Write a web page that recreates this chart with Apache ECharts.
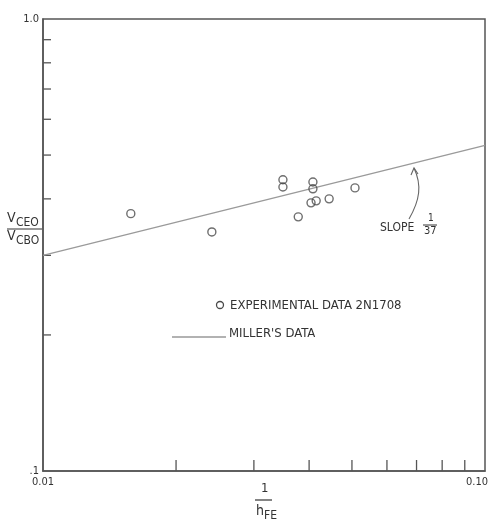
<!DOCTYPE html>
<html>
<head>
<meta charset="utf-8">
<script src="https://cdn.jsdelivr.net/npm/echarts@6/dist/echarts.min.js"></script>
<style>html,body{margin:0;padding:0;background:#fff}#c{width:489px;height:526px}</style>
</head>
<body>
<div id="c"></div>
<script>
// Experimental data 2N1708: 1/hFE vs VCEO/VCBO
const expX = [0.0158, 0.0241, 0.0349, 0.0349, 0.0378, 0.0408, 0.0408, 0.0404, 0.0415, 0.0444, 0.0508];
const expY = [0.371, 0.338, 0.441, 0.425, 0.365, 0.436, 0.421, 0.392, 0.396, 0.400, 0.423];
// Miller's data line
const millerX = [0.01, 0.1];
const millerY = [0.30, 0.525];
// Minor tick values
const xTickVals = [0.02, 0.03, 0.04, 0.05, 0.06, 0.07, 0.08, 0.09];
const yTickVals = [0.2, 0.3, 0.4, 0.5, 0.6, 0.7, 0.8, 0.9];
const xLabels = {min: '0.01', max: '0.10'};
const yLabels = {min: '.1', max: '1.0'};

const FONT = '"Liberation Sans Narrow", "DejaVu Sans Condensed", "Liberation Sans", sans-serif';
const INK = '#333';

const chart = echarts.init(document.getElementById('c'), null, {renderer: 'canvas'});

const txt = (x, y, text, size, extra) => Object.assign({
  type: 'text', x: x, y: y,
  style: Object.assign({text: text, fill: INK, font: size + 'px ' + FONT}, extra || {})
});
const ln = (x1, y1, x2, y2, color, w) => ({
  type: 'line', shape: {x1, y1, x2, y2}, style: {stroke: color || INK, lineWidth: w || 1.2}
});

chart.setOption({
  backgroundColor: '#fff',
  animation: false,
  grid: {left: 43, right: 4, top: 19, bottom: 55, show: true, borderColor: '#555', borderWidth: 1.5, backgroundColor: 'transparent', containLabel: false, outerBoundsMode: 'none'},
  xAxis: {
    type: 'log', logBase: 10, min: 0.01, max: 0.1,
    axisLine: {lineStyle: {color: '#555', width: 1.5}},
    axisTick: {show: false},
    splitLine: {show: false},
    axisLabel: {
      color: INK, fontSize: 11, fontFamily: FONT, margin: 6,
      formatter: v => (Math.abs(v - 0.01) < 1e-6 ? xLabels.min : '')
    }
  },
  yAxis: {
    type: 'log', logBase: 10, min: 0.1, max: 1,
    axisLine: {lineStyle: {color: '#555', width: 1.5}},
    axisTick: {show: false},
    splitLine: {show: false},
    axisLabel: {
      color: INK, fontSize: 11, fontFamily: FONT, margin: 4,
      verticalAlign: 'middle', padding: [0, 0, 4, 0],
      formatter: v => (Math.abs(v - 1) < 1e-6 ? yLabels.max : yLabels.min)
    }
  },
  series: [
    {
      type: 'line', name: "MILLER'S DATA",
      data: millerX.map((x, i) => [x, millerY[i]]),
      symbol: 'none', lineStyle: {color: '#9a9a9a', width: 1.3}, z: 2
    },
    {
      type: 'scatter', name: 'EXPERIMENTAL DATA 2N1708',
      data: expX.map((x, i) => [x, expY[i]]),
      symbol: 'circle', symbolSize: 8,
      itemStyle: {color: 'rgba(255,255,255,0)', borderColor: '#4a4a4a', borderWidth: 1.4}, z: 3
    },
    {
      type: 'custom', data: xTickVals.map(v => [v, 0.1]),
      renderItem: (params, api) => {
        const p = api.coord([api.value(0), 0.1]);
        return {type: 'line', shape: {x1: p[0], y1: p[1], x2: p[0], y2: p[1] - 11}, style: {stroke: '#555', lineWidth: 1.3}};
      }, silent: true
    },
    {
      type: 'custom', data: yTickVals.map(v => [0.01, v]),
      renderItem: (params, api) => {
        const p = api.coord([0.01, api.value(1)]);
        return {type: 'line', shape: {x1: p[0], y1: p[1], x2: p[0] + 8, y2: p[1]}, style: {stroke: '#555', lineWidth: 1.3}};
      }, silent: true
    },
    {
      // right-end x tick label, aligned to the axis end
      type: 'custom', data: [[0.1, 0.1]], clip: false,
      renderItem: (params, api) => {
        const p = api.coord([api.value(0), api.value(1)]);
        return {type: 'text', x: p[0] + 3, y: p[1] + 6,
          style: {text: xLabels.max, fill: INK, font: '11px ' + FONT, align: 'right', verticalAlign: 'top'}};
      }, silent: true
    }
  ],
  graphic: [
    // y-axis name: V_CEO / V_CBO
    txt(7, 211, 'V', 14),
    txt(16, 217, 'CEO', 12),
    ln(7, 229, 42, 229, INK, 1.2),
    txt(7, 229, 'V', 14),
    txt(16, 235, 'CBO', 12),
    // x-axis name: 1 / h_FE
    txt(261, 482, '1', 13),
    ln(255, 500, 272, 500, INK, 1.2),
    txt(256, 504, 'h', 14),
    txt(264, 510, 'FE', 12),
    // legend
    {type: 'circle', shape: {cx: 220, cy: 305, r: 3.5}, style: {fill: 'none', stroke: '#4a4a4a', lineWidth: 1.3}},
    txt(230, 299, 'EXPERIMENTAL DATA 2N1708', 13),
    ln(172, 337, 226, 337, '#666', 1.2),
    txt(229, 327, "MILLER'S DATA", 13),
    // slope annotation
    txt(380, 222, 'SLOPE', 12),
    txt(428, 213, '1', 10),
    ln(423, 225, 437, 225, INK, 1),
    txt(424, 226, '37', 11),
    {type: 'bezierCurve', shape: {x1: 414, y1: 168, cpx1: 422, cpy1: 185, cpx2: 420, cpy2: 200, x2: 409, y2: 219}, style: {stroke: '#666', lineWidth: 1.1, fill: 'none'}},
    {type: 'polyline', shape: {points: [[411, 175], [414, 168], [418, 174]]}, style: {stroke: '#666', lineWidth: 1.1, fill: 'none'}}
  ]
});
</script>
</body>
</html>
